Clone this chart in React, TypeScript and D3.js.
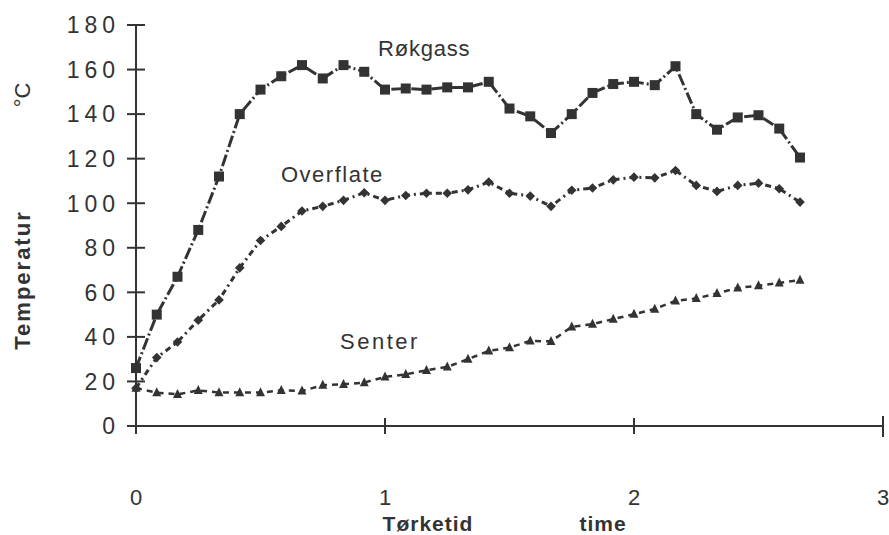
import React from "react";
import * as d3 from "d3";

const minutes = [0, 5, 10, 15, 20, 25, 30, 35, 40, 45, 50, 55, 60, 65, 70, 75, 80, 85, 90, 95, 100, 105, 110, 115, 120, 125, 130, 135, 140, 145, 150, 155, 160];
const rokgass = [26, 50, 67, 88, 112, 140, 151, 157, 162, 156, 162, 159, 151, 151.5, 151, 152, 152, 154.5, 142.5, 139, 131.5, 140, 149.5, 153.5, 154.5, 153, 161.5, 140, 133, 138.5, 139.5, 133.5, 120.5];
const overflate = [17, 30.7, 37.7, 47.5, 56.6, 71, 83.3, 89.6, 96.5, 98.6, 101.3, 104.7, 101.3, 103.5, 104.5, 104.5, 106, 109.5, 104.5, 103.2, 98.6, 105.8, 106.8, 110.5, 111.7, 111.4, 114.7, 108, 105.3, 108, 109, 106.5, 100.5];
const senter = [17, 15, 14.2, 16, 15, 15, 15, 16, 15.7, 18.3, 18.7, 19.5, 22, 23.2, 25, 26.5, 30, 33.7, 35.2, 38.2, 38, 44.5, 45.7, 48, 50.2, 52.5, 56.2, 57.3, 59.5, 62, 63, 64.2, 65.5];
const yTicks = [0, 20, 40, 60, 80, 100, 120, 140, 160, 180];
const xTicks = [0, 1, 2, 3];

const INK = "#333";
const FONT = "'Liberation Sans', Arial, Helvetica, sans-serif";

export default function App() {
  const x = d3.scaleLinear().domain([0, 3]).range([136, 883]);
  const y = d3.scaleLinear().domain([0, 180]).range([426, 25]);
  const line = d3
    .line<number>()
    .x((_, i) => x(minutes[i] / 60))
    .y((d) => y(d));

  const sq = 10;
  const diamond = (cx: number, cy: number) => {
    const r = 4.8;
    return `M${cx},${cy - r}L${cx + r},${cy}L${cx},${cy + r}L${cx - r},${cy}Z`;
  };
  const tri = (cx: number, cy: number) => {
    const h = 9;
    const w = 9;
    return `M${cx},${cy - h * 0.6}L${cx + w / 2},${cy + h * 0.4}L${cx - w / 2},${cy + h * 0.4}Z`;
  };

  return (
    <svg width={889} height={535} style={{ display: "block", position: "absolute", left: 0, top: 0, background: "#fff" }}>
      <rect width={889} height={535} fill="#fff" />
      {/* axes */}
      <line x1={x(0)} x2={x(0)} y1={y(180)} y2={y(0)} stroke={INK} strokeWidth={2} />
      <line x1={x(0)} x2={x(3)} y1={y(0)} y2={y(0)} stroke={INK} strokeWidth={2} />
      {yTicks.map((t) => (
        <g key={"y" + t}>
          <line x1={x(0) - 9} x2={x(0) + 9} y1={y(t)} y2={y(t)} stroke={INK} strokeWidth={2} />
          <text x={120} y={y(t)} dy="0.36em" textAnchor="end" fontFamily={FONT} fontSize={23} letterSpacing={5} fill={INK}>
            {String(t)}
          </text>
        </g>
      ))}
      {xTicks.map((t) => (
        <g key={"x" + t}>
          <line x1={x(t)} x2={x(t)} y1={y(0) - (t === 3 ? 10 : 8)} y2={y(0) + (t === 3 ? 11 : 8)} stroke={INK} strokeWidth={2} />
          <text x={x(t)} y={505} textAnchor="middle" fontFamily={FONT} fontSize={22} fill={INK}>
            {String(t)}
          </text>
        </g>
      ))}
      {/* lines */}
      <path d={line(rokgass) || ""} fill="none" stroke={INK} strokeWidth={3} strokeDasharray="12,3,2,3" />
      <path d={line(overflate) || ""} fill="none" stroke={INK} strokeWidth={3} strokeDasharray="6,4,2,4" />
      <path d={line(senter) || ""} fill="none" stroke={INK} strokeWidth={2.5} strokeDasharray="6,5" />
      {/* markers */}
      {rokgass.map((v, i) => (
        <rect key={"r" + i} x={x(minutes[i] / 60) - sq / 2} y={y(v) - sq / 2} width={sq} height={sq} fill={INK} />
      ))}
      {overflate.map((v, i) => (
        <path key={"o" + i} d={diamond(x(minutes[i] / 60), y(v))} fill={INK} />
      ))}
      {senter.map((v, i) => (
        <path key={"s" + i} d={tri(x(minutes[i] / 60), y(v))} fill={INK} />
      ))}
      {/* series labels */}
      <text x={378} y={56} fontFamily={FONT} fontSize={22} letterSpacing={0.8} fill={INK}>Røkgass</text>
      <text x={281} y={182} fontFamily={FONT} fontSize={22} letterSpacing={1.5} fill={INK}>Overflate</text>
      <text x={340} y={349} fontFamily={FONT} fontSize={22} letterSpacing={2.5} fill={INK}>Senter</text>
      {/* axis titles */}
      <text x={428} y={531} textAnchor="middle" fontFamily={FONT} fontSize={21} fontWeight="bold" letterSpacing={1} fill={INK}>Tørketid</text>
      <text x={603} y={531} textAnchor="middle" fontFamily={FONT} fontSize={21} fontWeight="bold" letterSpacing={1} fill={INK}>time</text>
      <text transform="translate(30,280) rotate(-90)" textAnchor="middle" fontFamily={FONT} fontSize={22} fontWeight="bold" letterSpacing={2} fill={INK}>Temperatur</text>
      <text transform="translate(30,95) rotate(-90)" textAnchor="middle" fontFamily={FONT} fontSize={22} fill={INK}>°C</text>
    </svg>
  );
}
